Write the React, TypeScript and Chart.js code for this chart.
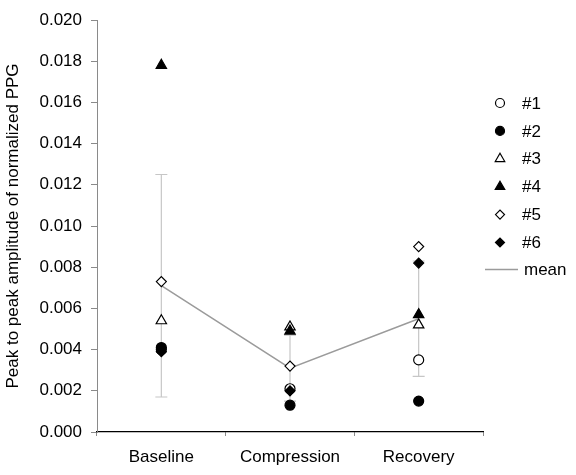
import React, { useEffect, useRef } from 'react';
import { Chart, registerables } from 'chart.js';
import { drawPoint } from 'chart.js/helpers';

Chart.register(...registerables);

// Phases of the protocol
const categories = ['Baseline', 'Compression', 'Recovery'];

// Peak-to-peak amplitude of the normalized PPG per subject
const subject1 = [0.0040, 0.0021, 0.0035];
const subject2 = [0.0041, 0.0013, 0.0015];
const subject3 = [0.0054, 0.0051, 0.0052];
const subject4 = [0.0178, 0.0049, 0.0057];
const subject5 = [0.0073, 0.0032, 0.0090];
const subject6 = [0.0039, 0.0020, 0.0082];

// Group mean and standard deviation
const meanValues = [0.0071, 0.0031, 0.0055];
const sdValues = [0.0054, 0.0016, 0.0028];

const yMin = 0;
const yMax = 0.02;
const yStep = 0.002;

const FONT = '"Liberation Sans", Arial, Helvetica, sans-serif';

type Marker = {
  label: string;
  data: number[];
  pointStyle: 'circle' | 'triangle' | 'rectRot';
  filled: boolean;
  radius: number;
};

const markers: Marker[] = [
  { label: '#1', data: subject1, pointStyle: 'circle', filled: false, radius: 5 },
  { label: '#2', data: subject2, pointStyle: 'circle', filled: true, radius: 5 },
  { label: '#3', data: subject3, pointStyle: 'triangle', filled: false, radius: 6 },
  { label: '#4', data: subject4, pointStyle: 'triangle', filled: true, radius: 6 },
  { label: '#5', data: subject5, pointStyle: 'rectRot', filled: false, radius: 5 },
  { label: '#6', data: subject6, pointStyle: 'rectRot', filled: true, radius: 5 },
];

const MEAN_COLOR = '#9b9b9b';
const ERR_COLOR = '#c6c6c6';

// Legend drawn to the right of the plot area
const sideLegend = {
  id: 'sideLegend',
  afterDraw(chart: Chart) {
    const ctx = chart.ctx;
    const area = chart.chartArea;
    const markerX = area.right + 17;
    const textX = area.right + 39;
    const top = 103;
    const gap = 27.9;
    ctx.save();
    ctx.font = `17px ${FONT}`;
    ctx.textBaseline = 'middle';
    ctx.textAlign = 'left';
    markers.forEach((m, i) => {
      const y = top + i * gap;
      ctx.fillStyle = m.filled ? '#000' : '#fff';
      ctx.strokeStyle = '#000';
      ctx.lineWidth = 1.2;
      drawPoint(ctx, { pointStyle: m.pointStyle, radius: m.radius - 0.5, rotation: 0, borderWidth: 1.2 }, markerX, y);
      ctx.fillStyle = '#000';
      ctx.fillText(m.label, textX, y + 1);
    });
    const yMean = top + markers.length * gap - 1;
    ctx.strokeStyle = MEAN_COLOR;
    ctx.lineWidth = 1.5;
    ctx.beginPath();
    ctx.moveTo(area.right + 2, yMean);
    ctx.lineTo(area.right + 35, yMean);
    ctx.stroke();
    ctx.fillStyle = '#000';
    ctx.fillText('mean', textX + 2, yMean + 1);
    ctx.restore();
  },
};

export default function App() {
  const ref = useRef<HTMLCanvasElement>(null);

  useEffect(() => {
    const errorSets = categories.map((c, i) => ({
      type: 'line' as const,
      label: `sd-${c}`,
      data: [
        { x: c, y: meanValues[i] - sdValues[i] },
        { x: c, y: meanValues[i] + sdValues[i] },
      ],
      borderColor: ERR_COLOR,
      borderWidth: 1.2,
      pointStyle: 'line' as const,
      pointRadius: 6,
      pointBorderColor: ERR_COLOR,
      pointBorderWidth: 1.2,
      order: 30,
    }));

    const meanSet = {
      type: 'line' as const,
      label: 'mean',
      data: meanValues,
      borderColor: MEAN_COLOR,
      borderWidth: 1.5,
      pointRadius: 0,
      order: 20,
    };

    const markerSets = markers.map((m, i) => ({
      type: 'line' as const,
      label: m.label,
      data: m.data,
      showLine: false,
      pointStyle: m.pointStyle,
      pointRadius: m.radius,
      pointBackgroundColor: m.filled ? '#000' : '#fff',
      pointBorderColor: '#000',
      pointBorderWidth: 1.2,
      order: markers.length - i,
    }));

    const chart = new Chart(ref.current!, {
      type: 'line',
      data: {
        labels: categories,
        datasets: [...errorSets, meanSet, ...markerSets] as any,
      },
      options: {
        responsive: false,
        animation: false,
        events: [],
        layout: { padding: { top: 20, right: 93, left: 0, bottom: 0 } },
        plugins: {
          legend: { display: false },
          tooltip: { enabled: false },
        },
        scales: {
          x: {
            type: 'category',
            offset: true,
            grid: {
              display: true,
              drawOnChartArea: false,
              drawTicks: true,
              tickLength: 4,
              color: '#8a8a8a',
              offset: true,
            },
            border: { display: true, color: '#000', width: 1.2 },
            ticks: { color: '#000', font: { family: FONT, size: 17 }, padding: 11 },
            afterFit: (s: any) => {
              s.height = 43;
            },
          },
          y: {
            min: yMin,
            max: yMax,
            grid: {
              display: true,
              drawOnChartArea: false,
              drawTicks: true,
              tickLength: 6,
              color: '#8a8a8a',
            },
            border: { display: true, color: '#8a8a8a', width: 1 },
            ticks: {
              stepSize: yStep,
              color: '#000',
              font: { family: FONT, size: 17 },
              padding: 9,
              callback: (v: any) => Number(v).toFixed(3),
            },
            title: {
              display: true,
              text: 'Peak to peak amplitude of normalized PPG',
              color: '#000',
              font: { family: FONT, size: 17 },
              padding: { top: 3, bottom: 0 },
            },
            afterFit: (s: any) => {
              s.width = 97;
            },
          },
        },
      },
      plugins: [sideLegend],
    });

    return () => chart.destroy();
  }, []);

  return (
    <canvas
      ref={ref}
      width={576}
      height={475}
      style={{ position: 'fixed', left: 0, top: 0, width: 576, height: 475, background: '#fff' }}
    />
  );
}
